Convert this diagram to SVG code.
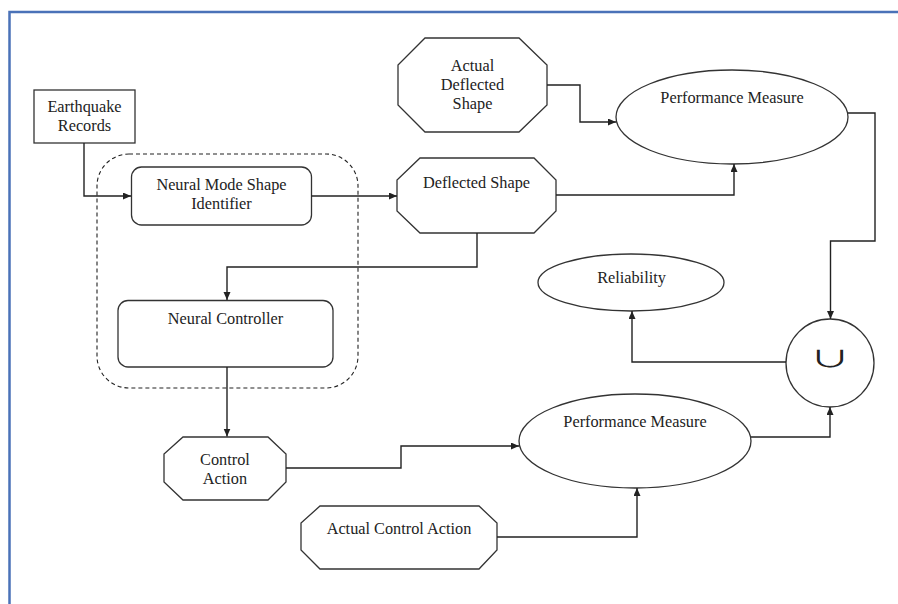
<svg xmlns="http://www.w3.org/2000/svg" width="898" height="604" viewBox="0 0 898 604">
<defs>
<marker id="arr" markerWidth="9" markerHeight="8" refX="8" refY="3.5" orient="auto" markerUnits="userSpaceOnUse">
<path d="M0,0 L8,3.5 L0,7 z" fill="#222"/>
</marker>
<style>
.shape{fill:#fff;stroke:#333;stroke-width:1.3}
.lbl{font-family:"Liberation Serif","Times New Roman",serif;font-size:16.3px;fill:#222;text-anchor:middle}
.conn path{fill:none;stroke:#222;stroke-width:1.4;marker-end:url(#arr)}
</style>
</defs>
<rect width="898" height="604" fill="#fff"/>
<path d="M9.5,604 V12 H898" fill="none" stroke="#4a72b8" stroke-width="2.5"/>

<g id="group-dashed">
<rect x="97" y="154" width="261" height="234" rx="32" fill="none" stroke="#222" stroke-width="1.1" stroke-dasharray="4,3"/>
</g>

<g id="earthquake-records">
<rect class="shape" x="34" y="90" width="101" height="53"/>
<text class="lbl" x="84.5" y="112">Earthquake</text>
<text class="lbl" x="84.5" y="131">Records</text>
</g>

<g id="neural-mode-shape-identifier">
<rect class="shape" x="131.5" y="167" width="180" height="58" rx="10"/>
<text class="lbl" x="221.5" y="190">Neural Mode Shape</text>
<text class="lbl" x="221.5" y="209">Identifier</text>
</g>

<g id="neural-controller">
<rect class="shape" x="118" y="300.5" width="215" height="66.5" rx="10"/>
<text class="lbl" x="225.5" y="324">Neural Controller</text>
</g>

<g id="actual-deflected-shape">
<polygon class="shape" points="425,38 519,38 547,65 547,105 519,132 425,132 398,105 398,65"/>
<text class="lbl" x="472.5" y="71">Actual</text>
<text class="lbl" x="472.5" y="90">Deflected</text>
<text class="lbl" x="472.5" y="109">Shape</text>
</g>

<g id="deflected-shape">
<polygon class="shape" points="420,158 534,158 556,180 556,211 534,233 420,233 397,211 397,180"/>
<text class="lbl" x="476.5" y="188">Deflected Shape</text>
</g>

<g id="performance-measure-top">
<ellipse class="shape" cx="732" cy="117" rx="116" ry="47"/>
<text class="lbl" x="732" y="103">Performance Measure</text>
</g>

<g id="reliability">
<ellipse class="shape" cx="631" cy="282.5" rx="93" ry="28.5"/>
<text class="lbl" x="631.5" y="283">Reliability</text>
</g>

<g id="union">
<circle class="shape" cx="830" cy="363" r="44"/>
<text transform="translate(830,366.5) scale(1.35,0.75)" x="0" y="0" font-family="'Noto Sans CJK SC','DejaVu Sans',sans-serif" font-size="30" fill="#222" text-anchor="middle">∪</text>
</g>

<g id="control-action">
<polygon class="shape" points="183,437 268,437 286,454 286,482 268,500 183,500 164,482 164,454"/>
<text class="lbl" x="225" y="465">Control</text>
<text class="lbl" x="225" y="484">Action</text>
</g>

<g id="performance-measure-bottom">
<ellipse class="shape" cx="635" cy="441" rx="116" ry="47"/>
<text class="lbl" x="635" y="427">Performance Measure</text>
</g>

<g id="actual-control-action">
<polygon class="shape" points="320,506 479,506 497,523 497,550 479,569 320,569 301,550 301,523"/>
<text class="lbl" x="399" y="534">Actual Control Action</text>
</g>

<g id="connectors" class="conn">
<path d="M84,143 V196 H131"/>
<path d="M311.5,196 H397"/>
<path d="M477,233 V267 H227 V300"/>
<path d="M556,195 H734 V164"/>
<path d="M547,85 H580 V122 H616"/>
<path d="M848,113 H875 V241 H830.5 V319"/>
<path d="M227,367 V436.5"/>
<path d="M286,468 H401 V446 H519"/>
<path d="M497,537 H637 V488"/>
<path d="M751,437 H830 V407"/>
<path d="M786,362 H632 V311"/>
</g>
</svg>
